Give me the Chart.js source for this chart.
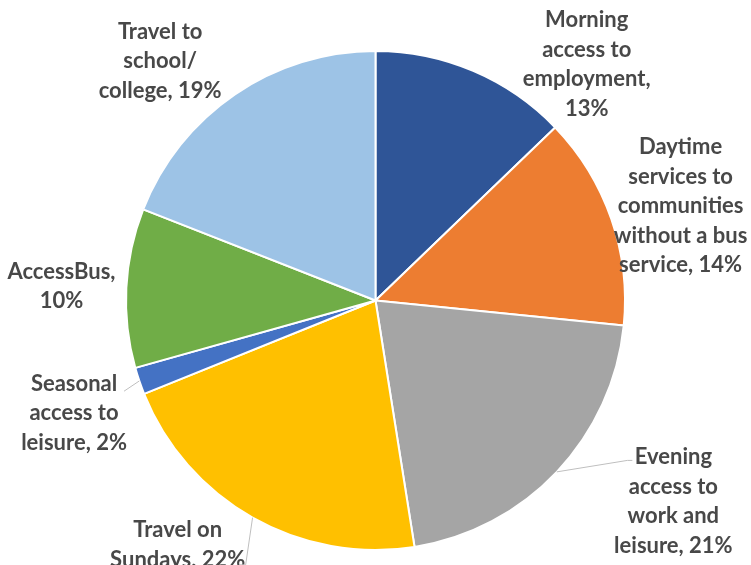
<!DOCTYPE html>
<html lang="en">
<head>
    <meta charset="UTF-8">
    <title>Pie chart</title>
    <script src="https://cdn.jsdelivr.net/npm/chart.js"></script>
    <style>
        body { margin: 0; background: #fff; }
        #wrap { width: 751px; height: 565px; position: relative; }
    </style>
</head>
<body>
<div id="wrap">
    <canvas id="myChart" width="751" height="565"></canvas>
</div>
<script>
    // categories and shares
    const categories = [
        'Morning access to employment',
        'Daytime services to communities without a bus service',
        'Evening access to work and leisure',
        'Travel on Sundays',
        'Seasonal access to leisure',
        'AccessBus',
        'Travel to school/ college'
    ];
    const shares = [12.8, 13.8, 20.9, 21.4, 1.75, 10.3, 19.05];
    const pctLabels = ['13%', '14%', '21%', '22%', '2%', '10%', '19%'];

    // label text as wrapped on the picture
    const labelLines = [
        ['Morning', 'access to', 'employment,', '13%'],
        ['Daytime', 'services to', 'communities', 'without a bus', 'service, 14%'],
        ['Evening', 'access to', 'work and', 'leisure, 21%'],
        ['Travel on', 'Sundays, 22%'],
        ['Seasonal', 'access to', 'leisure, 2%'],
        ['AccessBus,', '10%'],
        ['Travel to', 'school/', 'college, 19%']
    ];

    const colors = ['#2F5597', '#ED7D31', '#A5A5A5', '#FFC000', '#4472C4', '#70AD47', '#9DC3E6'];

    // label placement: angle (deg, clockwise from top) and radius factor
    const labelPos = [
        {ang: 41.8, k: 1.27},
        {ang: 72.8, k: 1.28},
        {ang: 124, k: 1.44},
        {ang: 219, k: 1.26},
        {ang: 249.5, k: 1.29},
        {ang: 272.6, k: 1.26},
        {ang: 318, k: 1.29}
    ];
    // leader lines: offset of the end from label centre, then a short tail
    const leaders = [null, null,
        {dx: -46, dy: -41, tail: 5},
        {dx: 68, dy: 20, tail: -6},
        {dx: 50, dy: -22, tail: 0},
        null, null];

    const labelPlugin = {
        id: 'sliceLabels',
        afterDraw(chart) {
            const ctx = chart.ctx;
            const arcs = chart.getDatasetMeta(0).data;
            ctx.save();
            ctx.font = 'bold 22px Lato';
            ctx.fillStyle = '#484848';
            ctx.textAlign = 'center';
            ctx.textBaseline = 'middle';
            const lh = 29.5;
            arcs.forEach((arc, i) => {
                const cx = arc.x, cy = arc.y, r = arc.outerRadius;
                const a = labelPos[i].ang * Math.PI / 180;
                const lx = cx + Math.sin(a) * r * labelPos[i].k;
                const ly = cy - Math.cos(a) * r * labelPos[i].k;
                const lines = labelLines[i];
                lines.forEach((t, j) => {
                    ctx.fillText(t, lx, ly + (j - (lines.length - 1) / 2) * lh);
                });
                const ld = leaders[i];
                if (ld) {
                    const mid = (arc.startAngle + arc.endAngle) / 2;
                    const sx = cx + Math.cos(mid) * r;
                    const sy = cy + Math.sin(mid) * r;
                    ctx.beginPath();
                    ctx.strokeStyle = '#BFBFBF';
                    ctx.lineWidth = 1;
                    ctx.moveTo(sx, sy);
                    ctx.lineTo(lx + ld.dx, ly + ld.dy);
                    ctx.lineTo(lx + ld.dx + ld.tail, ly + ld.dy);
                    ctx.stroke();
                }
            });
            ctx.restore();
        }
    };

    const data = {
        labels: categories,
        datasets: [{
            data: shares,
            backgroundColor: colors,
            borderColor: '#ffffff',
            borderWidth: 2
        }]
    };

    const config = {
        type: 'pie',
        data: data,
        options: {
            responsive: false,
            animation: false,
            layout: { padding: { top: 50, bottom: 14, left: 0, right: 0 } },
            plugins: {
                legend: { display: false },
                tooltip: { enabled: false }
            }
        },
        plugins: [labelPlugin]
    };
    const myChart = new Chart(document.querySelector('#myChart'), config);
</script>
</body>
</html>
